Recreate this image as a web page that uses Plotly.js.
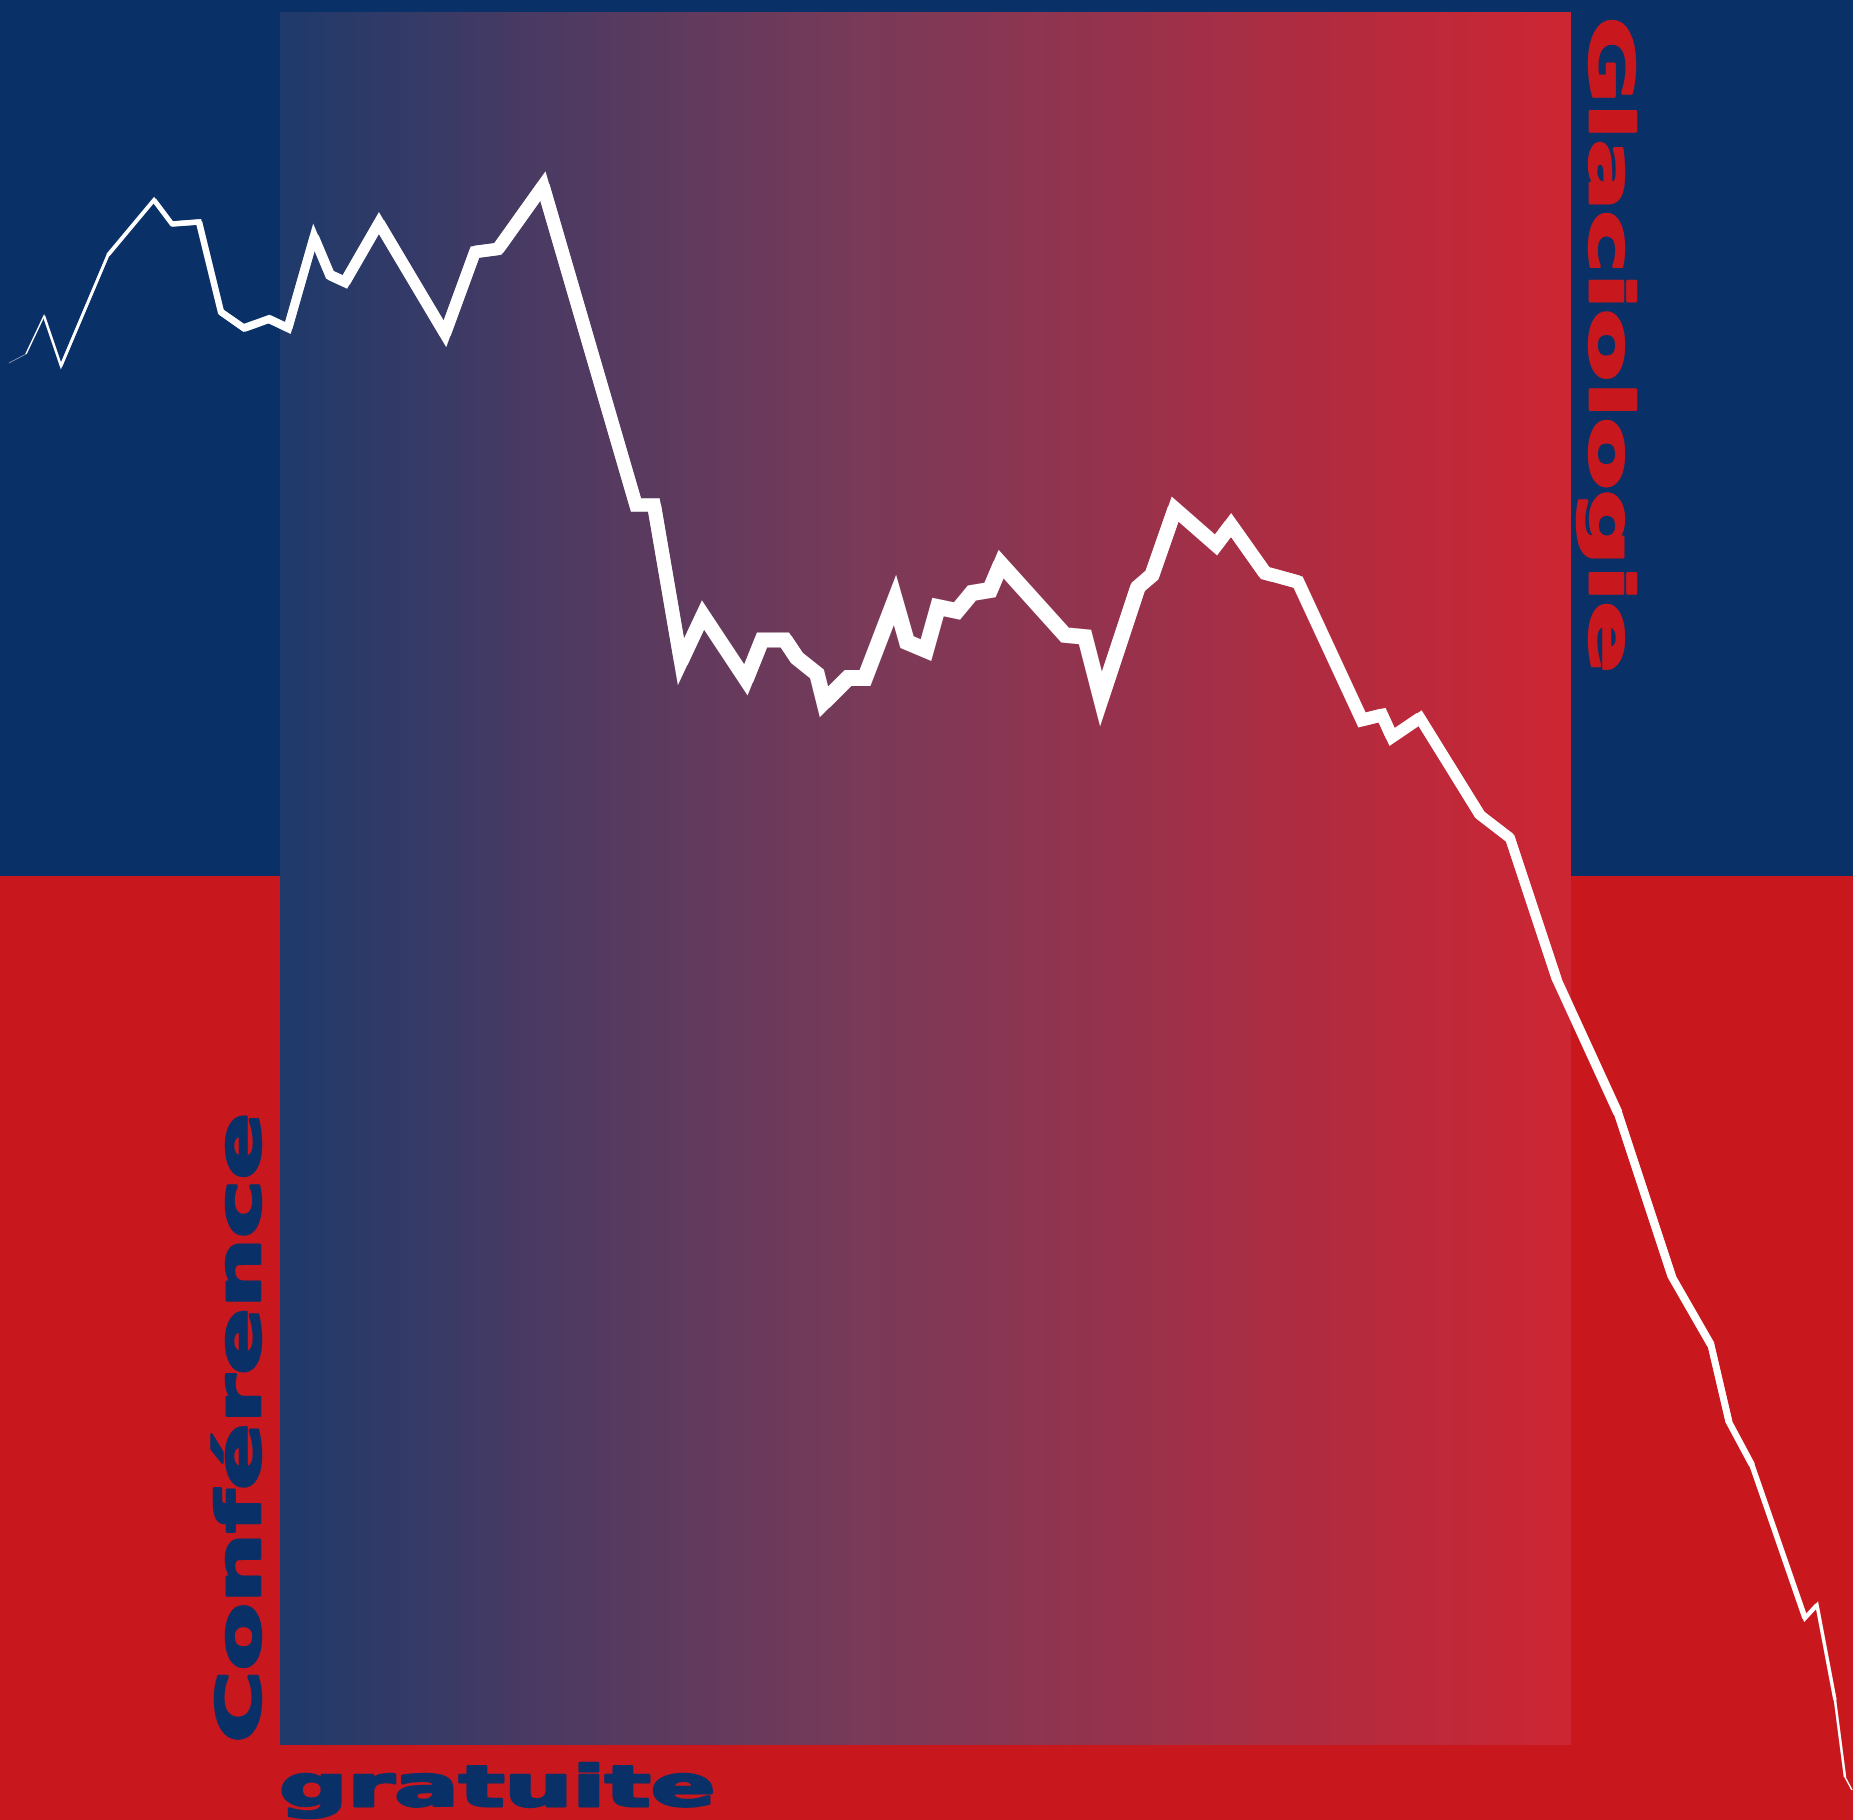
<!DOCTYPE html>
<html>
<head>
<meta charset="utf-8">
<script src="https://cdn.plot.ly/plotly-3.0.1.min.js"></script>
<style>
  html, body { margin: 0; padding: 0; background: #0a3068; }
  #chart { width: 1853px; height: 1820px; }
  .scatterlayer .js-line { stroke-linejoin: miter !important; stroke-miterlimit: 12 !important; stroke-linecap: butt !important; }
</style>
</head>
<body>
<div id="chart"></div>
<script>
// ---- data ----
var seriesX = [0.9, 2.6, 4.4, 6.1, 10.8, 15.4, 17.2, 19.9, 22.1, 24.4, 26.9, 28.8, 31.4, 33.0, 34.5, 37.9,
  44.5, 47.5, 49.8, 54.3, 63.6, 65.4, 68.1, 70.3, 74.6, 76.2, 78.5, 79.7, 81.7, 82.4, 84.8, 86.5,
  89.5, 90.7, 92.6, 93.8, 95.7, 97.2, 99.0, 100.1, 106.5, 108.5, 110.1, 113.8, 115.2, 117.5, 121.6,
  123.1, 126.5, 129.8, 136.2, 138.2, 139.2, 142.0, 148.0, 151.0, 155.7, 161.8, 167.2, 171.1, 172.9,
  175.2, 180.5, 181.7, 183.5, 184.5, 185.2];
var seriesY = [145.7, 146.6, 150.4, 145.4, 156.5, 162.0, 159.6, 159.8, 150.8, 149.2, 150.1, 149.2, 158.3,
  154.5, 153.8, 159.7, 148.6, 156.8, 157.1, 163.4, 131.5, 131.5, 115.8, 120.5, 114.0, 118.0, 118.0,
  116.2, 114.6, 111.8, 114.2, 114.2, 122.0, 117.8, 117.0, 121.3, 120.9, 122.7, 123.0, 125.6, 118.5,
  118.3, 112.1, 123.3, 124.5, 131.1, 127.5, 129.5, 124.7, 123.8, 110.0, 110.5, 108.3, 110.2, 100.5,
  98.2, 84.0, 70.7, 54.3, 47.5, 39.8, 35.5, 20.2, 21.5, 12.0, 4.3, 3.0];
var titleRight = "Glaciologie";
var titleLeft = "Conférence";
var titleBottom = "gratuite";

// ---- styling / layout ----
var BLUE = '#0a3068', RED = '#c8181e';
var X_RANGE = [0, 185.3], Y_RANGE = [0, 182.0];
var MAXW = 16;

var traces = [];

// gradient panel (heatmap of column positions)
var nCols = 86, px0 = 28.0, px1 = 157.1;
var edges = [], zrow = [];
for (var i = 0; i <= nCols; i++) edges.push(px0 + (px1 - px0) * i / nCols);
for (var j = 0; j < nCols; j++) zrow.push(j / (nCols - 1));
traces.push({
  type: 'heatmap', x: edges, y: [7.5, 180.8], z: [zrow], zmin: 0, zmax: 1,
  colorscale: [[0, '#1f3a6b'], [0.2, '#4b3a62'], [0.45, '#793a58'], [0.605, '#8f3450'], [0.79, '#ae2c41'], [1, '#cc2633']],
  showscale: false, hoverinfo: 'skip', zsmooth: false
});

// white line, width tapering toward both ends (runs of equal width, overlapping by one segment)
var nSeg = seriesX.length - 1;
function segW(k) {
  var t = (k + 0.5) / nSeg;
  var f = t <= 0.5 ? 1 - Math.pow(1 - 2 * t, 2) : 1 - Math.pow(1 - 2 * (1 - t), 2.3);
  return Math.max(0.5, MAXW * f);
}
function q(w) { return Math.round(w * 2) / 2; }
var groups = [], k = 0;
while (k < nSeg) {
  var w = q(segW(k)), end = k;
  while (end + 1 < nSeg && q(segW(end + 1)) === w) end++;
  groups.push({ s: k, e: end, w: w });
  k = end + 1;
}
groups.forEach(function (g) {
  var last = Math.min(g.e + 2, nSeg);
  traces.push({
    type: 'scatter', mode: 'lines',
    x: seriesX.slice(g.s, last + 1), y: seriesY.slice(g.s, last + 1),
    line: { color: '#ffffff', width: g.w }, hoverinfo: 'skip', showlegend: false
  });
});

var layout = {
  width: 1853, height: 1820,
  margin: { l: 0, r: 0, t: 0, b: 0, pad: 0 },
  paper_bgcolor: BLUE, plot_bgcolor: 'rgba(0,0,0,0)',
  showlegend: false,
  xaxis: { range: X_RANGE, visible: false, fixedrange: true },
  yaxis: { range: Y_RANGE, visible: false, fixedrange: true },
  shapes: [
    { type: 'rect', layer: 'below', xref: 'paper', yref: 'y', x0: 0, x1: 1, y0: -5, y1: 94.4,
      fillcolor: RED, line: { width: 0 } }
  ],
  annotations: [
    { text: titleRight, xref: 'x', yref: 'y', x: 161.1, y: 147.5, xanchor: 'center', yanchor: 'middle',
      textangle: 90, showarrow: false,
      font: { family: 'DejaVu Sans', size: 60, weight: 'bold', color: RED } },
    { text: titleLeft, xref: 'x', yref: 'y', x: 23.85, y: 39.15, xanchor: 'center', yanchor: 'middle',
      textangle: -90, showarrow: false,
      font: { family: 'DejaVu Sans', size: 61, weight: 'bold', color: BLUE } },
    { text: titleBottom, xref: 'x', yref: 'y', x: 49.75, y: 3.45, xanchor: 'center', yanchor: 'middle',
      showarrow: false,
      font: { family: 'DejaVu Sans', size: 57, weight: 'bold', color: BLUE } }
  ]
};

var stretch = {};
stretch[titleRight] = { len: 656, color: RED };
stretch[titleLeft] = { len: 630, color: BLUE };
stretch[titleBottom] = { len: 436, color: BLUE };

function applyStretch(gd) {
  gd.querySelectorAll('.annotation-text').forEach(function (el) {
    var s = stretch[el.textContent];
    if (s) {
      el.setAttribute('textLength', s.len);
      el.setAttribute('lengthAdjust', 'spacingAndGlyphs');
      el.style.stroke = s.color;
      el.style.strokeWidth = '2.5px';
      el.style.strokeLinejoin = 'round';
    }
  });
}

var gd = document.getElementById('chart');
Plotly.newPlot(gd, traces, layout, { staticPlot: true, displayModeBar: false }).then(function () {
  applyStretch(gd);
  gd.on('plotly_afterplot', function () { applyStretch(gd); });
});
</script>
</body>
</html>
